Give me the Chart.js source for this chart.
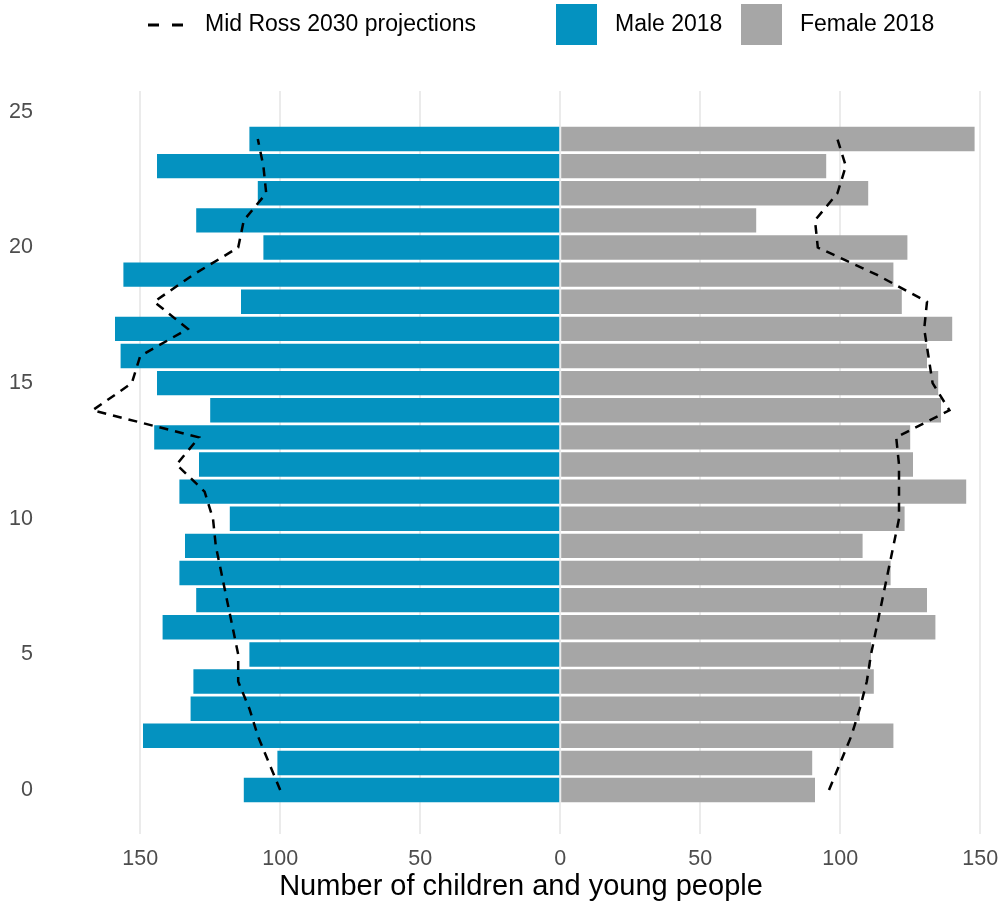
<!DOCTYPE html>
<html>
<head>
<meta charset="utf-8">
<script src="https://cdn.jsdelivr.net/npm/chart.js@4/dist/chart.umd.min.js"></script>
<style>
  html, body { margin: 0; padding: 0; background: #fff; }
  #wrap { width: 1001px; height: 904px; }
</style>
</head>
<body>
<div id="wrap"><canvas id="pyramid"></canvas></div>
<script>
const ages = [0, 1, 2, 3, 4, 5, 6, 7, 8, 9, 10, 11, 12, 13, 14, 15, 16, 17, 18, 19, 20, 21, 22, 23, 24];
const male2018 = [113, 101, 149, 132, 131, 111, 142, 130, 136, 134, 118, 136, 129, 145, 125, 144, 157, 159, 114, 156, 106, 130, 108, 144, 111];
const female2018 = [91, 90, 119, 107, 112, 111, 134, 131, 118, 108, 123, 145, 126, 125, 136, 135, 131, 140, 122, 119, 124, 70, 110, 95, 148];
const male2030 = [100, 104, 108, 111, 115, 115, 117, 119, 121, 123, 124, 127, 137, 129, 167, 153, 150, 133, 145, 131, 115, 113, 105, 106, 108];
const female2030 = [96, 100, 104, 107, 109.5, 111, 113, 115, 117, 119, 121, 121, 121, 120, 139, 133, 131.5, 130, 131, 113, 92, 91, 99, 102, 99];
const yTicks = [0, 5, 10, 15, 20, 25];
const xTicks = [-150, -100, -50, 0, 50, 100, 150];

const maleColor = '#0492c0';
const femaleColor = '#a6a6a6';
const fontFamily = "'Liberation Sans', Arial, sans-serif";

const toPoints = (values, sign) => values.map((v, i) => ({ x: sign * v, y: ages[i] }));

// legend drawn by hand so the keys can be big squares and a dashed line
const legendPlugin = {
  id: 'topLegend',
  afterDraw(chart) {
    const ctx = chart.ctx;
    const cy = 25;
    ctx.save();
    ctx.font = `23px ${fontFamily}`;
    ctx.textBaseline = 'middle';
    ctx.fillStyle = '#000';

    ctx.strokeStyle = '#000';
    ctx.lineWidth = 3;
    ctx.setLineDash([11, 13]);
    ctx.beginPath();
    ctx.moveTo(148, cy);
    ctx.lineTo(185, cy);
    ctx.stroke();
    ctx.setLineDash([]);
    ctx.fillText(chart.data.datasets[2].label, 205, cy);

    ctx.fillStyle = maleColor;
    ctx.fillRect(556, cy - 21, 41, 41);
    ctx.fillStyle = '#000';
    ctx.fillText(chart.data.datasets[0].label, 615, cy);

    ctx.fillStyle = femaleColor;
    ctx.fillRect(741, cy - 21, 41, 41);
    ctx.fillStyle = '#000';
    ctx.fillText(chart.data.datasets[1].label, 800, cy);
    ctx.restore();
  }
};

new Chart(document.getElementById('pyramid'), {
  type: 'bar',
  data: {
    datasets: [
      {
        label: 'Male 2018',
        data: toPoints(male2018, -1),
        backgroundColor: maleColor,
        grouped: false,
        barPercentage: 0.9,
        categoryPercentage: 1,
        order: 1
      },
      {
        label: 'Female 2018',
        data: toPoints(female2018, 1),
        backgroundColor: femaleColor,
        grouped: false,
        barPercentage: 0.9,
        categoryPercentage: 1,
        order: 1
      },
      {
        type: 'line',
        label: 'Mid Ross 2030 projections',
        data: toPoints(male2030, -1),
        borderColor: '#000',
        borderWidth: 2.5,
        borderDash: [9, 7],
        pointRadius: 0,
        fill: false,
        tension: 0,
        order: 0
      },
      {
        type: 'line',
        label: 'Mid Ross 2030 projections (female)',
        data: toPoints(female2030, 1),
        borderColor: '#000',
        borderWidth: 2.5,
        borderDash: [9, 7],
        pointRadius: 0,
        fill: false,
        tension: 0,
        order: 0
      }
    ]
  },
  options: {
    indexAxis: 'y',
    responsive: true,
    maintainAspectRatio: false,
    animation: false,
    layout: { padding: { top: 91, right: 4, left: 0, bottom: 0 } },
    plugins: {
      legend: { display: false },
      tooltip: { enabled: false }
    },
    scales: {
      x: {
        type: 'linear',
        min: -184,
        max: 156,
        afterBuildTicks: (scale) => { scale.ticks = xTicks.map((v) => ({ value: v })); },
        afterFit: (scale) => {
          scale.height = 70;
          scale.paddingLeft = 0;
          scale.paddingRight = 0;
        },
        grid: { color: '#ebebeb', lineWidth: 2, drawTicks: false },
        border: { display: false },
        ticks: {
          padding: 12,
          color: '#4d4d4d',
          font: { family: fontFamily, size: 21.5 },
          callback: (v) => Math.abs(v)
        },
        title: {
          display: true,
          text: 'Number of children and young people',
          color: '#000',
          font: { family: fontFamily, size: 29 },
          padding: { top: 0, bottom: 0 }
        }
      },
      y: {
        type: 'linear',
        offset: false,
        min: -1.62,
        max: 25.77,
        afterBuildTicks: (scale) => { scale.ticks = yTicks.map((v) => ({ value: v })); },
        afterFit: (scale) => {
          scale.width = 45;
          scale.paddingTop = 0;
          scale.paddingBottom = 0;
        },
        grid: { display: false, drawTicks: false },
        border: { display: false },
        ticks: {
          padding: 12,
          color: '#4d4d4d',
          font: { family: fontFamily, size: 21.5 }
        }
      }
    }
  },
  plugins: [legendPlugin]
});
</script>
</body>
</html>
